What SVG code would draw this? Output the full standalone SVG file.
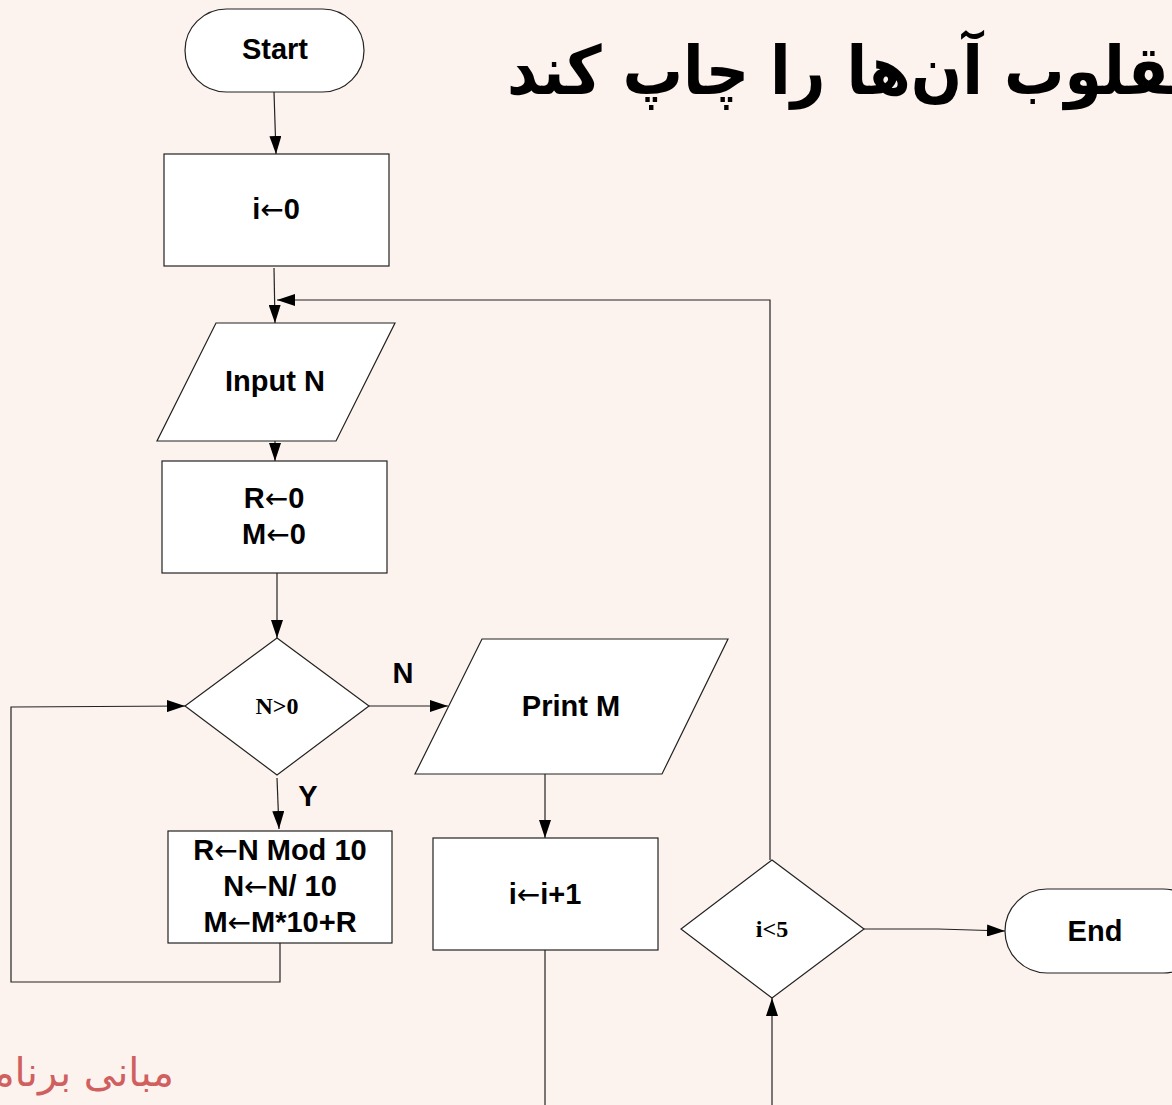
<svg xmlns="http://www.w3.org/2000/svg" width="1172" height="1105" viewBox="0 0 1172 1105">
<style>
.shape{fill:#ffffff;stroke:#222;stroke-width:1.2}
.conn{fill:none;stroke:#222;stroke-width:1.2}
.lbl{font-family:"Liberation Sans",Arial,sans-serif;font-weight:bold;font-size:29px;fill:#000;text-anchor:middle}
.ser{font-family:"Liberation Serif","Times New Roman",serif;font-weight:bold;font-size:24px;fill:#000;text-anchor:middle}
.arr{font-family:"DejaVu Sans",sans-serif;font-weight:normal;font-size:28px}
</style>
<defs>
<marker id="ah" viewBox="0 0 18 12" refX="18" refY="6" markerWidth="18" markerHeight="12" markerUnits="userSpaceOnUse" orient="auto">
<path d="M0,0 L18,6 L0,12 Z" fill="#000"/>
</marker>
</defs>
<rect width="1172" height="1105" fill="#fdf3ee"/>
<text x="507" y="94" font-family="DejaVu Sans Condensed, DejaVu Sans, sans-serif" font-stretch="condensed" font-weight="bold" font-size="67" fill="#000">مقلوب آن&#x200C;ها را چاپ کند</text>
<text x="174" y="1086" font-family="DejaVu Sans, sans-serif" font-size="40" fill="#d06060" text-anchor="end">مبانی برنامه نویسی</text>

<g id="connectors">
<path class="conn" d="M274,92 L276,154" marker-end="url(#ah)"/>
<path class="conn" d="M274,268 L275,323" marker-end="url(#ah)"/>
<path class="conn" d="M770,860 L770,300 L277,300" marker-end="url(#ah)"/>
<path class="conn" d="M275,436 L275,461" marker-end="url(#ah)"/>
<path class="conn" d="M277,573 L277,638" marker-end="url(#ah)"/>
<path class="conn" d="M369,706 L448,706" marker-end="url(#ah)"/>
<path class="conn" d="M277,778 L279,829" marker-end="url(#ah)"/>
<path class="conn" d="M280,943 L280,982 L11,982 L11,707 L185,706" marker-end="url(#ah)"/>
<path class="conn" d="M545,774 L545,838" marker-end="url(#ah)"/>
<path class="conn" d="M545,950 L545,1105"/>
<path class="conn" d="M772,1105 L772,998" marker-end="url(#ah)"/>
<path class="conn" d="M864,929 L938,929 L1005,931" marker-end="url(#ah)"/>
</g>

<g id="start">
<rect class="shape" x="185" y="9" width="179" height="83" rx="41.5"/>
<text class="lbl" x="275" y="59">Start</text>
</g>
<g id="init-i">
<rect class="shape" x="164" y="154" width="225" height="112"/>
<text class="lbl" x="276" y="219">i<tspan class="arr">←</tspan>0</text>
</g>
<g id="input">
<polygon class="shape" points="216,323 395,323 336,441 157,441"/>
<text class="lbl" x="275" y="391">Input N</text>
</g>
<g id="init-rm">
<rect class="shape" x="162" y="461" width="225" height="112"/>
<text class="lbl" x="274" y="508">R<tspan class="arr">←</tspan>0</text>
<text class="lbl" x="274" y="544">M<tspan class="arr">←</tspan>0</text>
</g>
<g id="cond-n">
<polygon class="shape" points="277,638 369,706 277,775 185,706"/>
<text class="ser" x="277" y="714">N&gt;0</text>
</g>
<text class="lbl" x="403" y="683" font-size="26">N</text>
<text class="lbl" x="308" y="806" font-size="26">Y</text>
<g id="print">
<polygon class="shape" points="482,639 728,639 662,774 415,774"/>
<text class="lbl" x="571" y="716">Print M</text>
</g>
<g id="body">
<rect class="shape" x="168" y="831" width="224" height="112"/>
<text class="lbl" x="280" y="860">R<tspan class="arr">←</tspan>N Mod 10</text>
<text class="lbl" x="280" y="896">N<tspan class="arr">←</tspan>N/ 10</text>
<text class="lbl" x="280" y="932">M<tspan class="arr">←</tspan>M*10+R</text>
</g>
<g id="inc">
<rect class="shape" x="433" y="838" width="225" height="112"/>
<text class="lbl" x="545" y="904">i<tspan class="arr">←</tspan>i+1</text>
</g>
<g id="cond-i">
<polygon class="shape" points="772,860 864,929 772,998 681,929"/>
<text class="ser" x="772" y="937">i&lt;5</text>
</g>
<g id="end">
<rect class="shape" x="1005" y="889" width="200" height="84" rx="42"/>
<text class="lbl" x="1095" y="941">End</text>
</g>
</svg>
